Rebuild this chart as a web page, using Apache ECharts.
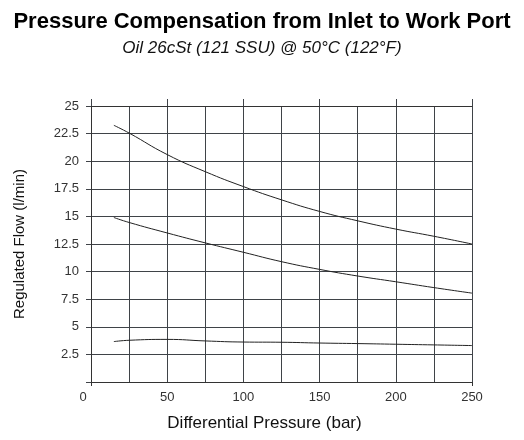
<!DOCTYPE html>
<html>
<head>
<meta charset="utf-8">
<script src="https://cdn.jsdelivr.net/npm/echarts@6/dist/echarts.min.js"></script>
<style>
  html, body { margin: 0; padding: 0; background: #fff; }
  #chart { width: 524px; height: 440px; }
</style>
</head>
<body>
<div id="chart"></div>
<script>
// pressure (bar) vs regulated flow (l/min)
const pressure = [15, 25, 50, 75, 100, 125, 150, 175, 200, 225, 250];
const flowHigh = [23.25, 22.55, 20.6, 19.05, 17.7, 16.5, 15.45, 14.6, 13.85, 13.2, 12.5];
const flowMid = [14.9, 14.45, 13.5, 12.6, 11.75, 10.9, 10.2, 9.6, 9.08, 8.55, 8.05];
const flowLow = [3.66, 3.78, 3.86, 3.72, 3.62, 3.6, 3.53, 3.48, 3.42, 3.36, 3.3];
const topTicks = [0, 50, 100, 150, 200, 250];
const bottomTicks = [0, 250];

const font = 'Liberation Sans, Arial, sans-serif';
const gridColor = '#3f4348';

function pairs(ys) {
  return pressure.map((x, i) => [x, ys[i]]);
}

function curve(name, ys) {
  return {
    name: name,
    type: 'line',
    data: pairs(ys),
    smooth: true,
    showSymbol: false,
    lineStyle: { color: '#222', width: 1 },
  };
}

const chart = echarts.init(document.getElementById('chart'));
chart.setOption({
  animation: false,
  title: [
    {
      text: 'Pressure Compensation from Inlet to Work Port',
      left: 'center',
      top: 6,
      textStyle: { fontFamily: font, fontSize: 22, fontWeight: 'bold', color: '#000' },
    },
    {
      text: 'Oil 26cSt (121 SSU) @ 50°C (122°F)',
      left: 'center',
      top: 35,
      textStyle: { fontFamily: font, fontSize: 17, fontStyle: 'italic', fontWeight: 'normal', color: '#111' },
    },
  ],
  grid: { left: 91, right: 52, top: 106, bottom: 58 },
  xAxis: [
    {
      type: 'value',
      min: 0,
      max: 250,
      interval: 25,
      name: 'Differential Pressure (bar)',
      nameLocation: 'middle',
      nameGap: 33,
      nameTextStyle: { fontFamily: font, fontSize: 17, color: '#111', padding: [0, 34, 0, 0] },
      axisLine: { show: true, lineStyle: { color: '#333' } },
      axisTick: { show: false },
      axisLabel: {
        fontFamily: font, fontSize: 13, color: '#333', margin: 9,
        formatter: v => (v === 0 ? '{z|0}' : v % 50 === 0 ? String(v) : ''),
        rich: { z: { fontFamily: font, fontSize: 13, color: '#333', padding: [0, 16, 0, 0] } },
      },
      splitLine: { show: true, lineStyle: { color: gridColor, width: 1 } },
    },
    {
      type: 'value',
      position: 'top',
      min: 0,
      max: 250,
      interval: 25,
      axisLine: { show: true, lineStyle: { color: '#333' } },
      axisTick: { show: true, length: 7, customValues: topTicks, lineStyle: { color: gridColor } },
      axisLabel: { show: false },
      splitLine: { show: false },
    },
    {
      type: 'value',
      position: 'bottom',
      offset: 0,
      min: 0,
      max: 250,
      interval: 25,
      axisLine: { show: false },
      axisTick: { show: true, length: 4, customValues: bottomTicks, lineStyle: { color: '#333' } },
      axisLabel: { show: false },
      splitLine: { show: false },
    },
  ],
  yAxis: {
    type: 'value',
    min: 0,
    max: 25,
    interval: 2.5,
    name: 'Regulated Flow (l/min)',
    nameLocation: 'middle',
    nameGap: 64,
    nameTextStyle: { fontFamily: font, fontSize: 15, color: '#111' },
    axisLine: { show: true, lineStyle: { color: '#333' } },
    axisTick: { show: true, length: 5, lineStyle: { color: gridColor } },
    axisLabel: {
      fontFamily: font, fontSize: 13, color: '#333', margin: 12,
      formatter: v => (v === 0 ? '' : String(v)),
    },
    splitLine: { show: true, lineStyle: { color: gridColor, width: 1 } },
  },
  series: [
    curve('high', flowHigh),
    curve('mid', flowMid),
    curve('low', flowLow),
  ],
});
</script>
</body>
</html>
